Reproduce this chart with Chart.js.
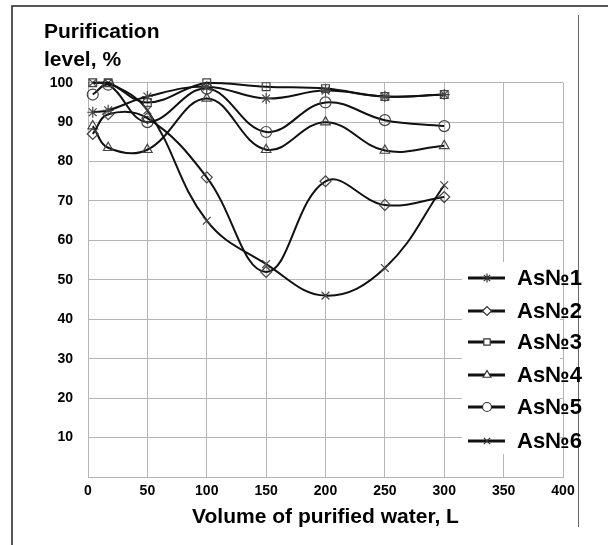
<!DOCTYPE html>
<html>
<head>
<meta charset="utf-8">
<script src="https://cdn.jsdelivr.net/npm/chart.js@4.4.1/dist/chart.umd.min.js"></script>
<style>
  html, body { margin: 0; padding: 0; background: #fff; }
  #wrap { width: 608px; height: 545px; position: relative; }
</style>
</head>
<body>
<div id="wrap"><canvas id="graph"></canvas></div>
<script>
// Volume of purified water, L
var volume = [4, 17, 50, 100, 150, 200, 250, 300];
// Purification level, % per sample
var as1 = [92.5, 93, 96.5, 99, 96, 98, 96.5, 97];
var as2 = [87, 92, 91, 76, 52, 75, 69, 71];
var as3 = [100, 100, 95, 100, 99, 98.5, 96.5, 97];
var as4 = [89, 83.5, 83, 96, 83, 90, 82.8, 84];
var as5 = [97, 99.5, 90, 98.5, 87.5, 95, 90.5, 89];
var as6 = [100, 100, 93, 65, 54, 46, 53, 74];
var labels = ['As№1', 'As№2', 'As№3', 'As№4', 'As№5', 'As№6'];
var markers = ['star', 'rectRot', 'rect', 'triangle', 'circle', 'crossRot'];
var series = [as1, as2, as3, as4, as5, as6];

const FONT = '"Liberation Sans", Arial, sans-serif';

function makeSet(i)
{
	var pts = [];
	for (var k = 0; k < volume.length; k++)
	{
		pts.push({x: volume[k], y: series[i][k]});
	}
	return {
		label: labels[i],
		data: pts,
		borderColor: '#111',
		borderWidth: 2,
		pointStyle: markers[i],
		pointRadius: 5.5,
		pointBorderColor: '#444',
		pointBorderWidth: 1.2,
		pointBackgroundColor: 'rgba(255,255,255,0)',
		tension: 0.4,
		clip: false,
		fill: false
	};
}

var sets = [];
for (var i = 0; i < series.length; i++) sets.push(makeSet(i));

// white page + the thin frame around the figure
var framePlugin = {
	id: 'frame',
	beforeDraw: function(chart)
	{
		var c = chart.ctx;
		c.save();
		c.fillStyle = '#fff';
		c.fillRect(0, 0, chart.width, chart.height);
		c.strokeStyle = '#222';
		c.lineWidth = 1.5;
		c.beginPath();
		c.moveTo(12, 545); c.lineTo(12, 6); c.lineTo(608, 6);
		c.stroke();
		c.strokeStyle = '#666';
		c.lineWidth = 1;
		c.beginPath();
		c.moveTo(578.5, 15); c.lineTo(578.5, 527);
		c.stroke();
		c.restore();
	}
};

// legend drawn inside the plot on the right
var legendPlugin = {
	id: 'sideLegend',
	afterDraw: function(chart)
	{
		var c = chart.ctx;
		var rows = [278, 311, 342, 375, 407, 441];
		c.save();
		c.fillStyle = '#fff';
		c.fillRect(462, 262, 98, 192);
		chart.data.datasets.forEach(function(ds, j)
		{
			var y = rows[j];
			c.strokeStyle = '#111';
			c.lineWidth = 3;
			c.beginPath();
			c.moveTo(468, y); c.lineTo(505, y);
			c.stroke();
			c.strokeStyle = '#333';
			c.fillStyle = '#fff';
			c.lineWidth = 1.2;
			Chart.helpers.drawPoint(c, {pointStyle: ds.pointStyle, radius: 4.5, borderWidth: 1.2, rotation: 0}, 487, y);
			c.fillStyle = '#000';
			c.font = 'bold 22px ' + FONT;
			c.textAlign = 'left';
			c.textBaseline = 'middle';
			c.fillText(ds.label, 517, y + 1);
		});
		c.restore();
	}
};

var ctx = document.getElementById('graph');
var graph = new Chart(ctx,
{
	type: 'line',
	data: { datasets: sets },
	plugins: [framePlugin, legendPlugin],
	options:
	{
		responsive: true,
		maintainAspectRatio: false,
		animation: false,
		layout: { padding: { left: 44, right: 45, top: 0, bottom: 0 } },
		plugins:
		{
			legend: { display: false },
			tooltip: { enabled: false },
			title:
			{
				display: true,
				text: ['Purification', 'level, %'],
				align: 'start',
				color: '#000',
				font: { family: FONT, size: 21, weight: 'bold', lineHeight: 1.35 },
				padding: { top: 18, bottom: 8 }
			}
		},
		scales:
		{
			x:
			{
				type: 'linear',
				min: 0,
				max: 400,
				ticks: { stepSize: 50, color: '#000', padding: 6, font: { family: FONT, size: 14, weight: 'bold' } },
				grid: { color: '#b5b5b5', lineWidth: 1, drawTicks: false },
				border: { color: '#b5b5b5' },
				title:
				{
					display: true,
					text: 'Volume of purified water, L',
					color: '#000',
					font: { family: FONT, size: 21, weight: 'bold' },
					padding: { top: 0, bottom: 15 }
				},
				afterFit: function(scale) { scale.height = 68; }
			},
			y:
			{
				min: 0,
				max: 100,
				ticks:
				{
					stepSize: 10,
					color: '#000',
					padding: 15,
					font: { family: FONT, size: 14, weight: 'bold' },
					callback: function(v) { return v === 0 ? '' : v; }
				},
				grid: { color: '#b5b5b5', lineWidth: 1, drawTicks: false },
				border: { color: '#b5b5b5' },
				afterFit: function(scale) { scale.width = 44; }
			}
		}
	}
});
</script>
</body>
</html>
